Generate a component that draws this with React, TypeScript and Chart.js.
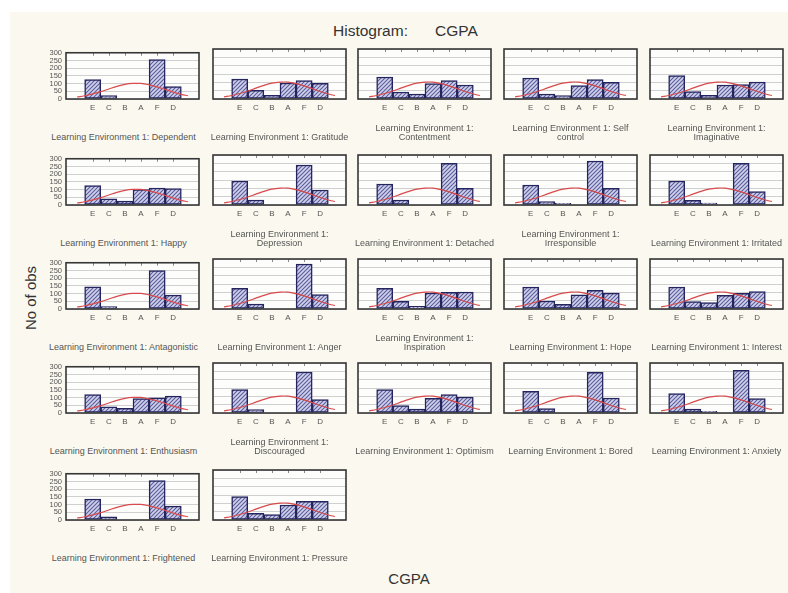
import { useEffect, useRef } from 'react';
import { Chart, registerables } from 'chart.js';

Chart.register(...registerables);

// ---------- data ----------
const categories = ['E', 'C', 'B', 'A', 'F', 'D'];
const categoryX = [0, 1, 2, 3, 4, 5];
const yTickValues = [0, 50, 100, 150, 200, 250, 300];

// expected-normal curve (x in category units, y in obs)
const curveX = [-0.97, -0.5, 0, 0.5, 1, 1.5, 2, 2.5, 3, 3.5, 4, 4.5, 5, 5.5, 5.91];
const curveY = [13, 21, 33, 48, 65, 82, 95, 101, 101, 92, 79, 62, 45, 30, 21];

const dependent = [126, 22, 0, 0, 256, 80];
const gratitude = [120, 52, 22, 96, 110, 94];
const contentment = [132, 42, 30, 92, 110, 84];
const selfControl = [126, 30, 20, 80, 116, 100];
const imaginative = [140, 44, 22, 84, 86, 102];
const happy = [126, 40, 26, 100, 110, 106];
const depression = [144, 30, 0, 0, 240, 90];
const detached = [126, 30, 0, 0, 250, 100];
const irresponsible = [120, 20, 10, 0, 264, 100];
const irritated = [144, 28, 12, 0, 250, 80];
const antagonistic = [144, 16, 0, 0, 250, 90];
const anger = [124, 30, 0, 0, 270, 86];
const inspiration = [124, 46, 16, 96, 100, 102];
const hope = [132, 48, 28, 85, 112, 95];
const interest = [132, 44, 38, 82, 94, 104];
const enthusiasm = [120, 40, 30, 94, 98, 110];
const discouraged = [140, 20, 0, 0, 246, 80];
const optimism = [140, 44, 24, 88, 110, 96];
const bored = [130, 26, 0, 0, 244, 90];
const anxiety = [116, 24, 10, 0, 256, 86];
const frightened = [136, 20, 0, 0, 256, 90];
const pressure = [140, 40, 32, 90, 112, 112];

const panelTitles: string[][] = [
  ['Learning Environment 1: Dependent'],
  ['Learning Environment 1: Gratitude'],
  ['Learning Environment 1:', 'Contentment'],
  ['Learning Environment 1: Self', 'control'],
  ['Learning Environment 1:', 'Imaginative'],
  ['Learning Environment 1: Happy'],
  ['Learning Environment 1:', 'Depression'],
  ['Learning Environment 1: Detached'],
  ['Learning Environment 1:', 'Irresponsible'],
  ['Learning Environment 1: Irritated'],
  ['Learning Environment 1: Antagonistic'],
  ['Learning Environment 1: Anger'],
  ['Learning Environment 1:', 'Inspiration'],
  ['Learning Environment 1: Hope'],
  ['Learning Environment 1: Interest'],
  ['Learning Environment 1: Enthusiasm'],
  ['Learning Environment 1:', 'Discouraged'],
  ['Learning Environment 1: Optimism'],
  ['Learning Environment 1: Bored'],
  ['Learning Environment 1: Anxiety'],
  ['Learning Environment 1: Frightened'],
  ['Learning Environment 1: Pressure'],
];

const panelCounts = [
  dependent, gratitude, contentment, selfControl, imaginative,
  happy, depression, detached, irresponsible, irritated,
  antagonistic, anger, inspiration, hope, interest,
  enthusiasm, discouraged, optimism, bored, anxiety,
  frightened, pressure,
];

// ---------- layout ----------
const COL_LEFT = [66, 213, 358, 504, 650];
const ROW_TOP = [49, 155, 259, 363, 470];
const FRAME_W = 133;
const FRAME_H = 50;
const Y_W = 32;
const PAD_T = 4;
const PAD_R = 10;
const X_H = 20;
const CANVAS_W = Y_W + FRAME_W + PAD_R;
const CANVAS_H = PAD_T + FRAME_H + X_H;
const FONT = "'Liberation Sans', Arial, sans-serif";

function makeHatch(ctx: CanvasRenderingContext2D) {
  const c = document.createElement('canvas');
  c.width = 4;
  c.height = 4;
  const g = c.getContext('2d')!;
  g.fillStyle = '#cfd1ea';
  g.fillRect(0, 0, 4, 4);
  g.strokeStyle = '#5c5c9c';
  g.lineWidth = 1.1;
  g.beginPath();
  g.moveTo(0, 4); g.lineTo(4, 0);
  g.moveTo(-1, 1); g.lineTo(1, -1);
  g.moveTo(3, 5); g.lineTo(5, 3);
  g.stroke();
  return ctx.createPattern(c, 'repeat');
}

const framePlugin = {
  id: 'frame',
  beforeDraw(chart: any) {
    const { ctx, chartArea: a } = chart;
    ctx.save();
    ctx.fillStyle = '#fdfdfc';
    ctx.fillRect(a.left, a.top, a.right - a.left, a.bottom - a.top);
    ctx.restore();
  },
  afterDatasetsDraw(chart: any) {
    const { ctx, chartArea: a } = chart;
    const xs = chart.scales.x;
    ctx.save();
    ctx.strokeStyle = '#8a8a8a';
    ctx.lineWidth = 1;
    xs.ticks.forEach((t: any) => {
      const px = Math.round(xs.getPixelForValue(t.value)) + 0.5;
      ctx.beginPath();
      ctx.moveTo(px, a.top);
      ctx.lineTo(px, a.top + 3);
      ctx.stroke();
    });
    ctx.strokeStyle = '#363636';
    ctx.lineWidth = 1.6;
    ctx.strokeRect(a.left, a.top, a.right - a.left, a.bottom - a.top);
    ctx.restore();
  },
};

function Panel({ counts, showY, left, top }: { counts: number[]; showY: boolean; left: number; top: number }) {
  const ref = useRef<HTMLCanvasElement>(null);
  useEffect(() => {
    const canvas = ref.current!;
    const ctx = canvas.getContext('2d')!;
    const hatch = makeHatch(ctx);
    const chart = new Chart(ctx, {
      type: 'bar',
      data: {
        datasets: [
          {
            type: 'line',
            data: curveX.map((x, i) => ({ x, y: curveY[i] })),
            borderColor: '#d84a4c',
            borderWidth: 1.2,
            pointRadius: 0,
            tension: 0.4,
            order: 0,
          } as any,
          {
            type: 'bar',
            data: categoryX.map((x, i) => ({ x, y: counts[i] })),
            backgroundColor: hatch as any,
            borderColor: '#24245e',
            borderWidth: 1.5,
            borderSkipped: false,
            barPercentage: 1,
            categoryPercentage: 1,
            order: 1,
          } as any,
        ],
      },
      options: {
        animation: false,
        responsive: false,
        maintainAspectRatio: false,
        layout: { padding: { top: PAD_T, right: PAD_R, left: 0, bottom: 0 } },
        plugins: { legend: { display: false }, tooltip: { enabled: false } },
        scales: {
          x: {
            type: 'linear',
            min: -0.97,
            max: 5.91,
            grid: { display: false, drawTicks: false },
            border: { display: false },
            afterBuildTicks: (axis: any) => {
              axis.ticks = categoryX.map((v) => ({ value: v }));
            },
            afterFit: (axis: any) => {
              axis.height = X_H;
            },
            ticks: {
              autoSkip: false,
              maxRotation: 0,
              padding: 5,
              color: '#555',
              font: { family: FONT, size: 8, lineHeight: 1 },
              callback: (v: any) => categories[categoryX.indexOf(Number(v))] ?? '',
            },
          },
          y: {
            min: 0,
            max: 300,
            grid: { color: '#d0d0d0', lineWidth: 1, drawTicks: false },
            border: { display: false },
            afterBuildTicks: (axis: any) => {
              axis.ticks = yTickValues.map((v) => ({ value: v }));
            },
            afterFit: (axis: any) => {
              axis.width = Y_W;
            },
            ticks: {
              display: showY,
              autoSkip: false,
              padding: 4,
              color: '#555',
              font: { family: FONT, size: 7.5, lineHeight: 1 },
            },
          },
        },
      } as any,
      plugins: [framePlugin],
    });
    return () => chart.destroy();
  }, [counts, showY]);
  return (
    <canvas
      ref={ref}
      width={CANVAS_W}
      height={CANVAS_H}
      style={{ position: 'absolute', left: left - Y_W, top: top - PAD_T, width: CANVAS_W, height: CANVAS_H }}
    />
  );
}

export default function App() {
  return (
    <div style={{ position: 'absolute', left: 0, top: 0, width: 788, height: 593, overflow: 'hidden', background: '#ffffff', fontFamily: FONT }}>
      <div style={{ position: 'absolute', left: 10, top: 12, right: 0, bottom: 0, background: '#fbf9ef' }} />
      <div style={{ position: 'absolute', left: 333, top: 22, fontSize: 15.5, color: '#333', whiteSpace: 'nowrap' }}>Histogram:</div>
      <div style={{ position: 'absolute', left: 435, top: 22, fontSize: 15.5, color: '#333', whiteSpace: 'nowrap' }}>CGPA</div>
      <div
        style={{
          position: 'absolute', left: 30, top: 298, fontSize: 15, color: '#333', whiteSpace: 'nowrap',
          transform: 'translate(-50%, -50%) rotate(-90deg)',
        }}
      >
        No of obs
      </div>
      <div style={{ position: 'absolute', left: 409, top: 578, fontSize: 15, color: '#333', whiteSpace: 'nowrap', transform: 'translate(-50%, -50%)' }}>CGPA</div>
      {panelCounts.map((counts, i) => {
        const col = i % 5;
        const row = Math.floor(i / 5);
        const left = COL_LEFT[col];
        const top = ROW_TOP[row];
        const center = left + FRAME_W / 2 - (col === 0 ? 9 : 0);
        const lastLineY = top + FRAME_H + 38;
        return (
          <div key={i}>
            <Panel counts={counts} showY={col === 0} left={left} top={top} />
            <div
              style={{
                position: 'absolute', left: center - 90, width: 180, top: lastLineY + 4.5,
                transform: 'translateY(-100%)', textAlign: 'center', fontSize: 9, lineHeight: '9px',
                color: '#555', whiteSpace: 'nowrap',
              }}
            >
              {panelTitles[i].map((line, j) => (
                <div key={j}>{line}</div>
              ))}
            </div>
          </div>
        );
      })}
    </div>
  );
}
